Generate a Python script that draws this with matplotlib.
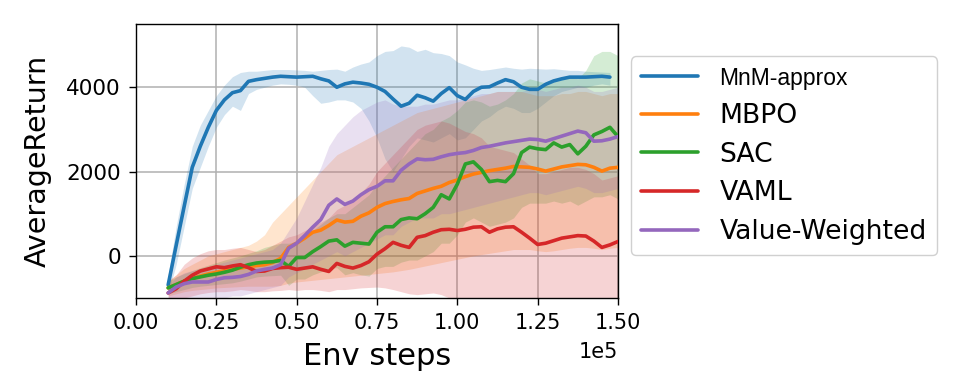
import numpy as np
import matplotlib
matplotlib.use("Agg")
import matplotlib.pyplot as plt

# x grid in units of 1e5 env steps
x_blue = np.arange(56) * 0.025 + 0.10      # 0.100 .. 1.475
x_other = np.arange(57) * 0.025 + 0.10     # 0.100 .. 1.500

labels = ["MnM-approx", "MBPO", "SAC", "VAML", "Value-Weighted"]

mnm_mean = [-690, 250, 1180, 2100, 2600, 3050, 3450, 3700, 3870, 3920,
            4140, 4180, 4210, 4240, 4260, 4250, 4240, 4250, 4260, 4200,
            4150, 4000, 4080, 4120, 4100, 4070, 4000, 3900, 3720, 3550,
            3620, 3810, 3750, 3670, 3850, 3990, 3800, 3710, 3900, 4000,
            4010, 4100, 4180, 4130, 4000, 3950, 3950, 4070, 4150, 4200,
            4240, 4240, 4240, 4250, 4260, 4240]
mnm_hi = [-450, 700, 1700, 2600, 3100, 3450, 3800, 4050, 4250, 4350,
          4380, 4380, 4400, 4420, 4420, 4420, 4410, 4400, 4380, 4400,
          4420, 4430, 4380, 4480, 4550, 4600, 4750, 4850, 4870, 4980,
          4950, 4850, 4900, 4820, 4800, 4750, 4600, 4530, 4450, 4400,
          4420, 4450, 4480, 4450, 4430, 4450, 4440, 4430, 4440, 4420,
          4400, 4400, 4380, 4370, 4360, 4350]
mnm_lo = [-900, -200, 700, 1600, 2100, 2600, 3050, 3350, 3550, 3450,
          3850, 3950, 4000, 4050, 4080, 4070, 4050, 4000, 3800, 3620,
          3650, 3700, 3700, 3650, 3500, 3200, 2800, 2300, 2000, 2300,
          2600, 2800, 2750, 2700, 2800, 2900, 2750, 2800, 3000, 3200,
          3300, 3450, 3550, 3500, 3400, 3400, 3500, 3650, 3800, 3900,
          3950, 4000, 4000, 4050, 4080, 4050]

mbpo_mean = [-760, -680, -600, -540, -480, -430, -390, -350, -320, -290,
             -260, -230, -210, -160, -60, 200, 300, 420, 560, 610,
             720, 850, 800, 820, 940, 1020, 1150, 1240, 1290, 1330,
             1360, 1480, 1540, 1600, 1650, 1740, 1800, 1880, 1940, 1980,
             2020, 2050, 2080, 2120, 2110, 2100, 2060, 2010, 2060, 2110,
             2140, 2170, 2160, 2100, 2010, 2080, 2100]
mbpo_hi = [-600, -450, -300, -200, -100, 0, 50, 100, 150, 200,
           250, 350, 500, 800, 1000, 1200, 1400, 1600, 1800, 2000,
           2200, 2400, 2500, 2600, 2700, 2800, 2900, 3000, 3100, 3200,
           3300, 3400, 3450, 3500, 3550, 3600, 3650, 3700, 3750, 3800,
           3850, 3900, 3900, 3900, 3900, 3850, 3800, 3800, 3800, 3850,
           3850, 3900, 3900, 3850, 3800, 3850, 3850]
mbpo_lo = [-950, -900, -850, -820, -800, -780, -760, -750, -740, -730,
           -720, -720, -720, -720, -700, -650, -620, -600, -580, -560,
           -540, -520, -500, -480, -460, -440, -420, -400, -380, -350,
           -320, -280, -240, -200, -160, -120, -80, -40, 0, 30,
           60, 90, 120, 150, 150, 150, 120, 100, 120, 150,
           180, 200, 200, 180, 150, 180, 200]

sac_mean = [-760, -680, -600, -540, -500, -460, -430, -390, -340, -270,
            -210, -170, -150, -140, -110, -250, -40, -40, 100, 220,
            350, 380, 230, 320, 300, 280, 560, 690, 690, 860,
            900, 880, 1000, 1150, 1450, 1350, 1700, 2180, 2230, 2050,
            1760, 1790, 1760, 1950, 2450, 2580, 2540, 2520, 2680, 2580,
            2640, 2420, 2600, 2870, 2950, 3050, 2830]
sac_hi = [-600, -500, -420, -350, -280, -220, -160, -100, -50, 0,
          60, 120, 200, 250, 300, 300, 350, 450, 600, 750,
          900, 1000, 1000, 1150, 1300, 1450, 1700, 1900, 2100, 2300,
          2500, 2700, 2900, 3000, 3200, 3300, 3450, 3650, 3700, 3650,
          3550, 3600, 3700, 3850, 4100, 4200, 4150, 4100, 4150, 4200,
          4250, 4200, 4400, 4750, 4850, 4850, 4750]
sac_lo = [-900, -850, -800, -750, -720, -700, -680, -660, -640, -600,
          -550, -500, -480, -470, -460, -700, -550, -550, -450, -380,
          -300, -280, -450, -400, -450, -480, -300, -250, -250, -150,
          -100, -100, 0, 100, 300, 300, 500, 800, 900, 800,
          700, 750, 800, 900, 1150, 1250, 1250, 1250, 1300, 1250,
          1300, 1200, 1300, 1400, 1400, 1450, 1350]

vaml_mean = [-880, -780, -600, -460, -360, -310, -260, -280, -240, -210,
             -280, -370, -360, -300, -280, -270, -320, -290, -260, -320,
             -370, -180, -250, -290, -230, -140, 40, 170, 320, 250,
             200, 440, 480, 560, 620, 630, 600, 630, 680, 690,
             560, 640, 680, 690, 560, 420, 270, 300, 360, 420,
             450, 480, 470, 350, 200, 260, 340]
vaml_hi = [-600, -450, -200, -50, 50, 120, 150, 150, 180, 200,
           150, 100, 150, 250, 350, 450, 500, 600, 700, 800,
           900, 1100, 1200, 1300, 1500, 1700, 2000, 2200, 2400, 2600,
           2800, 3000, 3100, 3150, 3200, 3150, 3050, 2950, 2900, 2800,
           2600, 2550, 2500, 2450, 2300, 2150, 1950, 1950, 2000, 2050,
           2100, 2100, 2050, 1950, 1800, 1850, 1900]
vaml_lo = [-1100, -1100, -1000, -950, -900, -870, -850, -850, -830, -800,
           -820, -850, -850, -830, -820, -800, -820, -800, -800, -820,
           -850, -800, -800, -780, -760, -750, -740, -760, -800, -850,
           -900, -920, -900, -880, -920, -1000, -1100, -1150, -1200, -1200,
           -1300, -1250, -1200, -1200, -1300, -1400, -1500, -1500, -1450, -1400,
           -1350, -1300, -1300, -1400, -1500, -1450, -1400]

vw_mean = [-880, -740, -660, -620, -620, -620, -560, -520, -510, -490,
           -440, -360, -320, -290, -210, 180, 300, 480, 680, 860,
           1200, 1350, 1220, 1300, 1450, 1570, 1650, 1780, 1780, 2030,
           2180, 2300, 2280, 2290, 2350, 2400, 2430, 2450, 2500, 2570,
           2600, 2640, 2680, 2710, 2740, 2770, 2760, 2720, 2780, 2840,
           2900, 2960, 2920, 2720, 2730, 2770, 2830]
vw_hi = [-700, -500, -400, -350, -300, -250, -200, -150, -100, -50,
         0, 50, 100, 150, 300, 600, 900, 1300, 1700, 2100,
         2600, 2900, 3100, 3300, 3450, 3550, 3650, 3700, 3600, 3550,
         3550, 3550, 3600, 3600, 3650, 3700, 3700, 3750, 3800, 3850,
         3850, 3900, 3900, 3900, 3900, 3950, 3950, 3900, 3950, 4000,
         4000, 4050, 4000, 3900, 3900, 3950, 4000]
vw_lo = [-1050, -1000, -1000, -1050, -1100, -1100, -1050, -1000, -950, -950,
         -900, -850, -800, -750, -700, -500, -400, -300, -200, -100,
         0, 100, 0, 100, 200, 300, 400, 500, 500, 700,
         800, 900, 900, 900, 1000, 1000, 1050, 1100, 1150, 1200,
         1250, 1300, 1350, 1400, 1450, 1500, 1500, 1450, 1500, 1550,
         1600, 1650, 1600, 1500, 1500, 1550, 1600]

colors = ["#1f77b4", "#ff7f0e", "#2ca02c", "#d62728", "#9467bd"]

series = [
    (x_blue, mnm_mean, mnm_lo, mnm_hi),
    (x_other, mbpo_mean, mbpo_lo, mbpo_hi),
    (x_other, sac_mean, sac_lo, sac_hi),
    (x_other, vaml_mean, vaml_lo, vaml_hi),
    (x_other, vw_mean, vw_lo, vw_hi),
]

fig = plt.figure(figsize=(9.6, 3.8), dpi=100)
ax = fig.add_axes([0.1417, 0.2158, 0.5020, 0.7210])

lines = []
for (xs, m, lo, hi), c, lab in zip(series, colors, labels):
    ln, = ax.plot(xs, m, color=c, lw=2.6, label=lab, zorder=3,
                  solid_joinstyle="round", solid_capstyle="round")
    ax.fill_between(xs, lo, hi, color=c, alpha=0.2, lw=0, zorder=2)
    lines.append(ln)

ax.set_xlim(0, 1.5)
ax.set_ylim(-1000, 5500)
ax.set_xticks([0, 0.25, 0.5, 0.75, 1.0, 1.25, 1.5])
ax.set_xticklabels(["0.00", "0.25", "0.50", "0.75", "1.00", "1.25", "1.50"])
ax.set_yticks([0, 2000, 4000])
ax.tick_params(axis="x", labelsize=15, length=5, width=1.0, pad=6)
ax.tick_params(axis="y", labelsize=15.5, length=5, width=1.0, pad=6)
for s in ax.spines.values():
    s.set_linewidth(1.0)
ax.grid(True, color="#b0b0b0", lw=1.1, zorder=0)
ax.set_axisbelow(True)
ax.set_xlabel("Env steps", fontsize=22, labelpad=6)
ax.set_ylabel("AverageReturn", fontsize=20.5, labelpad=10)
ax.text(1.0, -0.16, "1e5", transform=ax.transAxes, ha="right", va="top", fontsize=15)

leg = fig.legend(handles=lines, labels=labels, loc="upper left",
                 bbox_to_anchor=(0.657, 0.852), fontsize=19.2,
                 handlelength=2.15, handletextpad=0.8, labelspacing=0.48,
                 borderaxespad=0, borderpad=0.38, framealpha=1.0,
                 edgecolor="#d0d0d0")
for h in leg.get_lines():
    h.set_linewidth(2.6)
t0 = leg.get_texts()[0]
t0.set_fontfamily("Liberation Sans")
t0.set_fontsize(16.5)

fig.savefig("out.png", dpi=100)
